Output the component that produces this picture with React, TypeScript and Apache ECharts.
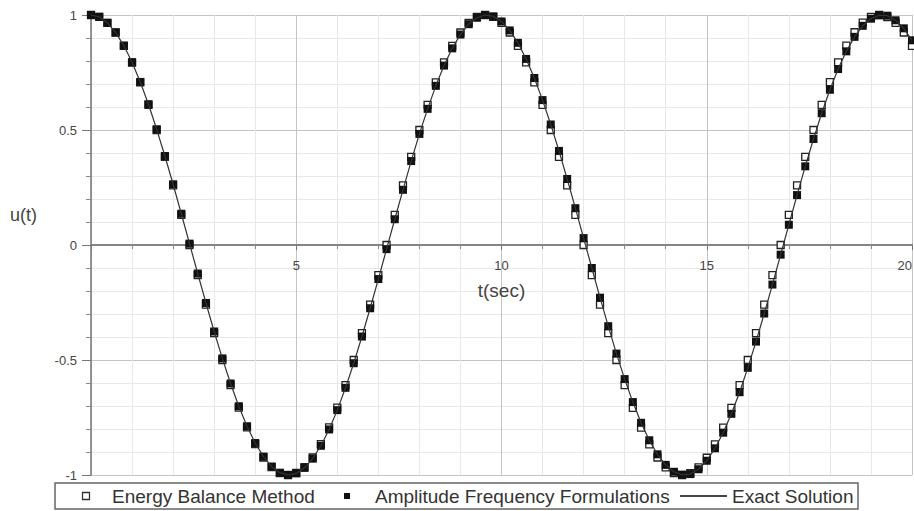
import { useEffect, useRef } from 'react';
import * as echarts from 'echarts';

// time samples (s)
const tValues = [
  0, 0.2, 0.4, 0.6, 0.8, 1, 1.2, 1.4, 1.6, 1.8,
  2, 2.2, 2.4, 2.6, 2.8, 3, 3.2, 3.4, 3.6, 3.8,
  4, 4.2, 4.4, 4.6, 4.8, 5, 5.2, 5.4, 5.6, 5.8,
  6, 6.2, 6.4, 6.6, 6.8, 7, 7.2, 7.4, 7.6, 7.8,
  8, 8.2, 8.4, 8.6, 8.8, 9, 9.2, 9.4, 9.6, 9.8,
  10, 10.2, 10.4, 10.6, 10.8, 11, 11.2, 11.4, 11.6, 11.8,
  12, 12.2, 12.4, 12.6, 12.8, 13, 13.2, 13.4, 13.6, 13.8,
  14, 14.2, 14.4, 14.6, 14.8, 15, 15.2, 15.4, 15.6, 15.8,
  16, 16.2, 16.4, 16.6, 16.8, 17, 17.2, 17.4, 17.6, 17.8,
  18, 18.2, 18.4, 18.6, 18.8, 19, 19.2, 19.4, 19.6, 19.8,
  20,
];

// Energy Balance Method (hollow squares)
const energyBalance = [
  1.0, 0.992, 0.966, 0.924, 0.866, 0.793, 0.707, 0.609, 0.5, 0.383,
  0.259, 0.131, 0.0, -0.131, -0.259, -0.383, -0.5, -0.609, -0.707, -0.793,
  -0.866, -0.924, -0.966, -0.992, -1.0, -0.991, -0.966, -0.924, -0.866, -0.793,
  -0.707, -0.609, -0.5, -0.383, -0.259, -0.131, 0.0, 0.131, 0.259, 0.383,
  0.5, 0.609, 0.707, 0.794, 0.866, 0.924, 0.966, 0.992, 1.0, 0.992,
  0.966, 0.924, 0.866, 0.794, 0.707, 0.609, 0.5, 0.383, 0.259, 0.131,
  0.0, -0.131, -0.259, -0.383, -0.5, -0.609, -0.708, -0.794, -0.867, -0.924,
  -0.967, -0.992, -1.0, -0.992, -0.967, -0.925, -0.867, -0.794, -0.708, -0.609,
  -0.5, -0.383, -0.259, -0.131, 0.0, 0.131, 0.259, 0.383, 0.5, 0.609,
  0.708, 0.794, 0.867, 0.925, 0.967, 0.992, 1.0, 0.991, 0.966, 0.924,
  0.866,
];

// Amplitude Frequency Formulations (filled markers)
const amplitudeFrequency = [
  1.0, 0.992, 0.966, 0.924, 0.867, 0.795, 0.709, 0.612, 0.503, 0.387,
  0.264, 0.136, 0.006, -0.124, -0.252, -0.376, -0.493, -0.602, -0.701, -0.788,
  -0.861, -0.92, -0.963, -0.99, -1.0, -0.993, -0.969, -0.929, -0.873, -0.802,
  -0.718, -0.621, -0.514, -0.398, -0.275, -0.148, -0.018, 0.112, 0.24, 0.365,
  0.483, 0.592, 0.692, 0.78, 0.855, 0.915, 0.96, 0.988, 1.0, 0.994,
  0.972, 0.933, 0.879, 0.809, 0.726, 0.63, 0.524, 0.409, 0.287, 0.16,
  0.03, -0.1, -0.229, -0.353, -0.472, -0.583, -0.683, -0.773, -0.849, -0.91,
  -0.956, -0.986, -0.999, -0.996, -0.975, -0.938, -0.884, -0.816, -0.734, -0.64,
  -0.534, -0.42, -0.298, -0.172, -0.042, 0.088, 0.217, 0.342, 0.461, 0.573,
  0.675, 0.765, 0.842, 0.905, 0.953, 0.984, 0.999, 0.997, 0.977, 0.942,
  0.89,
];

// Exact Solution (solid line)
const exactSolution = [
  1.0, 0.992, 0.966, 0.924, 0.867, 0.795, 0.709, 0.612, 0.503, 0.387,
  0.264, 0.136, 0.006, -0.124, -0.252, -0.376, -0.493, -0.602, -0.701, -0.788,
  -0.861, -0.92, -0.963, -0.99, -1.0, -0.993, -0.969, -0.929, -0.873, -0.802,
  -0.718, -0.621, -0.514, -0.398, -0.275, -0.148, -0.018, 0.112, 0.24, 0.365,
  0.483, 0.592, 0.692, 0.78, 0.855, 0.915, 0.96, 0.988, 1.0, 0.994,
  0.972, 0.933, 0.879, 0.809, 0.726, 0.63, 0.524, 0.409, 0.287, 0.16,
  0.03, -0.1, -0.229, -0.353, -0.472, -0.583, -0.683, -0.773, -0.849, -0.91,
  -0.956, -0.986, -0.999, -0.996, -0.975, -0.938, -0.884, -0.816, -0.734, -0.64,
  -0.534, -0.42, -0.298, -0.172, -0.042, 0.088, 0.217, 0.342, 0.461, 0.573,
  0.675, 0.765, 0.842, 0.905, 0.953, 0.984, 0.999, 0.997, 0.977, 0.942,
  0.89,
];

const legendNames = ['Energy Balance Method', 'Amplitude Frequency Formulations', 'Exact Solution'];
const xAxisName = 't(sec)';
const yAxisName = 'u(t)';

export default function App() {
  const ref = useRef<HTMLDivElement>(null);

  useEffect(() => {
    if (!ref.current) return;
    const chart = echarts.init(ref.current, null, { renderer: 'svg' });
    const font = "'Liberation Sans', Arial, sans-serif";
    const pairs = (ys: number[]) => tValues.map((t, i) => [t, ys[i]]);

    chart.setOption({
      animation: false,
      backgroundColor: '#ffffff',
      grid: { left: 91, right: 2, top: 15, bottom: 36, outerBoundsMode: 'none', containLabel: false },
      xAxis: {
        type: 'value',
        min: 0,
        max: 20,
        interval: 5,
        offset: -230,
        axisLine: { onZero: false, lineStyle: { color: '#858585', width: 2 } },
        axisTick: { show: true, length: 5, lineStyle: { color: '#777' } },
        minorTick: { show: true, splitNumber: 5, length: 4, lineStyle: { color: '#888' } },
        splitLine: { show: true, lineStyle: { color: '#c4c4c4', width: 1 } },
        minorSplitLine: { show: true, lineStyle: { color: '#e8e8e8', width: 1 } },
        axisLabel: {
          formatter: (v: number) => (v === 0 ? '' : String(v)),
          color: '#444',
          fontSize: 13,
          fontFamily: font,
          margin: 14,
          alignMaxLabel: 'right',
        },
        name: xAxisName,
        nameLocation: 'middle',
        nameGap: 36,
        nameTextStyle: { fontSize: 19, color: '#444', fontFamily: font },
      },
      yAxis: {
        type: 'value',
        min: -1,
        max: 1,
        interval: 0.5,
        axisLine: { show: true, onZero: false, lineStyle: { color: '#777', width: 1.5 } },
        axisTick: { show: true, length: 9, lineStyle: { color: '#777' } },
        minorTick: { show: true, splitNumber: 5, length: 5, lineStyle: { color: '#888' } },
        splitLine: { show: true, lineStyle: { color: '#c4c4c4', width: 1 } },
        minorSplitLine: { show: true, lineStyle: { color: '#e8e8e8', width: 1 } },
        axisLabel: {
          formatter: (v: number) => String(v),
          color: '#444',
          fontSize: 13,
          fontFamily: font,
          margin: 14,
        },
      },
      series: [
        {
          name: legendNames[0],
          type: 'scatter',
          data: pairs(energyBalance),
          symbol: 'rect',
          symbolSize: 7,
          itemStyle: { color: '#ffffff', borderColor: '#222', borderWidth: 1.3, opacity: 1 },
          clip: false,
          z: 2,
        },
        {
          name: legendNames[1],
          type: 'scatter',
          data: pairs(amplitudeFrequency),
          symbol: 'rect',
          symbolSize: 8,
          itemStyle: { color: '#111', opacity: 1 },
          clip: false,
          z: 3,
        },
        {
          name: legendNames[2],
          type: 'line',
          data: pairs(exactSolution),
          showSymbol: false,
          lineStyle: { color: '#333', width: 1.2 },
          clip: false,
          z: 4,
        },
      ],
      graphic: [
        {
          type: 'text',
          x: 10,
          y: 215,
          style: { text: yAxisName, font: `18px ${font}`, fill: '#444', align: 'left', verticalAlign: 'middle' },
        },
        {
          type: 'rect',
          shape: { x: 55, y: 483, width: 803, height: 26 },
          style: { fill: '#ffffff', stroke: '#666', lineWidth: 1.5 },
        },
        {
          type: 'rect',
          shape: { x: 82.5, y: 492.5, width: 7, height: 7 },
          style: { fill: '#ffffff', stroke: '#333', lineWidth: 1.3 },
        },
        {
          type: 'text',
          x: 112,
          y: 496,
          style: { text: legendNames[0], font: `19px ${font}`, fill: '#333', align: 'left', verticalAlign: 'middle' },
        },
        {
          type: 'rect',
          shape: { x: 344, y: 493, width: 6, height: 6 },
          style: { fill: '#111' },
        },
        {
          type: 'text',
          x: 375,
          y: 496,
          style: { text: legendNames[1], font: `19px ${font}`, fill: '#333', align: 'left', verticalAlign: 'middle' },
        },
        {
          type: 'line',
          shape: { x1: 680, y1: 496, x2: 727, y2: 496 },
          style: { stroke: '#444', lineWidth: 2 },
        },
        {
          type: 'text',
          x: 732,
          y: 496,
          style: { text: legendNames[2], font: `19px ${font}`, fill: '#333', align: 'left', verticalAlign: 'middle' },
        },
      ],
    });

    return () => chart.dispose();
  }, []);

  return <div ref={ref} style={{ position: 'fixed', left: 0, top: 0, width: 914, height: 511 }} />;
}
